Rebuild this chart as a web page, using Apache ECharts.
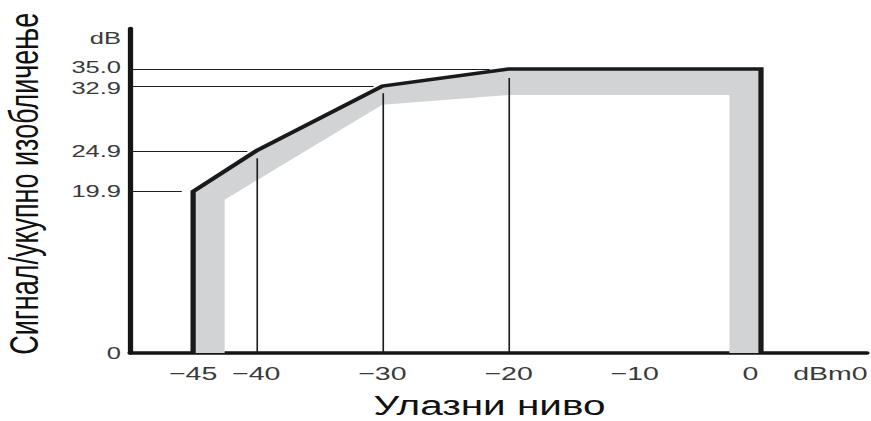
<!DOCTYPE html>
<html>
<head>
<meta charset="utf-8">
<script src="https://cdn.jsdelivr.net/npm/echarts@6/dist/echarts.min.js"></script>
<style>
  html, body { margin: 0; padding: 0; background: #fff; overflow: hidden; }
  /* the figure is drawn at 2/3 width and widened horizontally */
  #chart { width: 581px; height: 421px; transform: scaleX(1.5); transform-origin: 0 0; }
</style>
</head>
<body>
<div id="chart"></div>
<script>
// Signal-to-total-distortion mask (dB) versus input level (dBm0)
const curveX = [-45, -45, -40, -30, -20, 0, 0];
const curveY = [0, 19.9, 24.9, 32.9, 35.0, 35.0, 0];

// inner edge of the shaded tolerance band
const bandInnerX = [-42.5, -42.5, -30, -20, -2.5, -2.5];
const bandInnerY = [0, 18.9, 30.6, 31.8, 31.8, 0];

// horizontal leader lines from the y axis to the mask
const refLevels = [19.9, 24.9, 32.9, 35.0];
const refLevelEnds = [-45.9, -40.7, -30.7, -21.5];

// vertical drop lines from the mask down to the x axis
const dropX = [-40, -30, -20];
const dropTops = [24.0, 32.0, 33.9];

const yTickValues = [0, 19.9, 24.9, 32.9, 35.0];
const yUnitLabel = 'dB';
const yUnitAt = 38.8;

const xTickValues = [-45, -40, -30, -20, -10, 0];
const xUnitLabel = 'dBm0';
const xUnitAt = 5.5;

const xTitle = 'Улазни ниво';
const yTitle = 'Сигнал/укупно изобличење';

const FONT = 'Liberation Sans';
const LABEL_COLOR = '#3a3a3a';

const curveData = curveX.map((x, i) => [x, curveY[i]]);
const bandPolygon = curveData.concat(bandInnerX.map((x, i) => [x, bandInnerY[i]]).reverse());

const leaderLines = refLevels.map((y, i) => ({ coords: [[-50, y], [refLevelEnds[i], y]] }))
  .concat(dropX.map((x, i) => ({ coords: [[x, 0], [x, dropTops[i]]] })));

// the two closest y labels are nudged apart a little
function yLabel(v) {
  if (v === yUnitAt) return yUnitLabel;
  if (v === 0) return '0';
  if (v === 35) return '{up|35.0}';
  if (v === 32.9) return '{dn|32.9}';
  return v.toFixed(1);
}
const yRich = {
  up: { fontSize: 17, fontFamily: FONT, color: LABEL_COLOR, padding: [0, 0, 4, 0] },
  dn: { fontSize: 17, fontFamily: FONT, color: LABEL_COLOR, padding: [4, 0, 0, 0] }
};

const chart = echarts.init(document.getElementById('chart'), null, { renderer: 'svg' });

chart.setOption({
  animation: false,
  backgroundColor: '#fff',
  grid: { left: 86.67, right: 3, top: 28.4, bottom: 68, outerBoundsMode: 'none', containLabel: false },
  xAxis: {
    type: 'value',
    min: -50,
    max: 8.4,
    axisLine: { onZero: false, lineStyle: { color: '#151515', width: 3.5 } },
    axisTick: { show: false },
    splitLine: { show: false },
    axisLabel: {
      customValues: xTickValues.concat([xUnitAt]),
      formatter: v => v === xUnitAt ? xUnitLabel : (v < 0 ? '\u2212' + Math.abs(v) : '{zero|' + v + '}'),
      rich: { zero: { fontSize: 19, fontFamily: FONT, color: LABEL_COLOR, padding: [0, 14, 0, 0] } },
      color: LABEL_COLOR,
      fontSize: 19,
      fontFamily: FONT,
      margin: 11,
      hideOverlap: false
    },
    name: xTitle,
    nameLocation: 'middle',
    nameGap: 39,
    nameTextStyle: { fontSize: 27, color: '#111', fontFamily: FONT, padding: [0, 12, 0, 0] }
  },
  yAxis: {
    type: 'value',
    min: 0,
    max: 40,
    axisLine: { onZero: false, lineStyle: { color: '#151515', width: 3.5 } },
    axisTick: { show: false },
    splitLine: { show: false },
    axisLabel: {
      customValues: yTickValues.concat([yUnitAt]),
      formatter: yLabel,
      rich: yRich,
      color: LABEL_COLOR,
      fontSize: 17,
      lineHeight: 15,
      fontFamily: FONT,
      margin: 6,
      hideOverlap: false
    },
    name: yTitle,
    nameLocation: 'middle',
    nameGap: 57,
    nameTextStyle: { fontSize: 27, color: '#111', fontFamily: FONT, padding: [0, 0, 0, 14] }
  },
  series: [
    {
      type: 'custom',
      z: 1,
      silent: true,
      data: [[0, 0]],
      renderItem: (params, api) => ({
        type: 'polygon',
        shape: { points: bandPolygon.map(p => api.coord(p)) },
        style: { fill: '#d2d3d5' }
      })
    },
    {
      type: 'lines',
      coordinateSystem: 'cartesian2d',
      z: 2,
      silent: true,
      lineStyle: { color: '#1e1e1e', width: 1.1, opacity: 1 },
      data: leaderLines
    },
    {
      type: 'line',
      z: 3,
      silent: true,
      symbol: 'none',
      lineStyle: { color: '#1a1a1a', width: 3.5, join: 'miter', cap: 'butt' },
      data: curveData
    }
  ]
});
</script>
</body>
</html>
